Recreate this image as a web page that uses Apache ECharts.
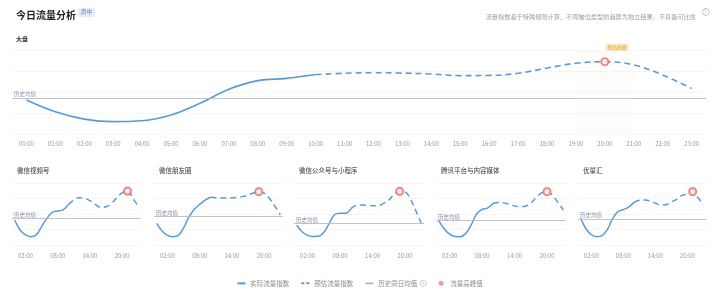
<!DOCTYPE html>
<html><head><meta charset="utf-8">
<script src="https://cdn.jsdelivr.net/npm/echarts@6/dist/echarts.min.js"></script>
<style>html,body{margin:0;padding:0;background:#fff}#c{width:720px;height:307px}</style>
</head><body><div id="c"></div>
<script>
// ---- data ----
const hours = ['00:00','01:00','02:00','03:00','04:00','05:00','06:00','07:00','08:00','09:00','10:00','11:00','12:00','13:00','14:00','15:00','16:00','17:00','18:00','19:00','20:00','21:00','22:00','23:00'];
const smallTickLabels = ['02:00','08:00','14:00','20:00'];
const actualEndIndex = 10;
const mainValues     = [1.62,1.06,0.71,0.59,0.63,0.90,1.46,2.13,2.54,2.65,2.83,2.89,2.92,2.90,2.86,2.78,2.79,2.89,3.14,3.37,3.44,3.29,2.81,2.17];
const videoValues    = [1.61,0.97,0.65,0.54,0.65,1.18,1.72,2.10,2.19,2.26,2.62,2.90,3.05,3.01,2.86,2.62,2.43,2.47,2.69,3.05,3.37,3.48,3.01,2.47];
const momentsValues  = [1.40,0.90,0.62,0.54,0.62,1.10,1.80,2.30,2.62,2.90,3.08,3.05,3.04,3.04,3.05,3.07,3.12,3.22,3.36,3.44,3.35,3.00,2.50,1.94];
const officialValues = [1.29,0.85,0.62,0.55,0.56,0.80,1.40,1.95,2.05,2.05,2.35,2.55,2.58,2.56,2.53,2.53,2.68,2.90,3.28,3.46,3.42,2.95,2.20,1.40];
const tencentValues  = [1.57,1.05,0.70,0.55,0.54,0.75,1.30,2.00,2.30,2.38,2.68,2.75,2.72,2.62,2.52,2.47,2.50,2.70,3.05,3.36,3.44,3.20,2.75,2.26];
const ylhValues      = [1.72,1.05,0.66,0.54,0.60,1.00,1.70,2.15,2.28,2.45,2.75,2.88,2.90,2.85,2.70,2.58,2.60,2.78,2.95,3.20,3.30,3.44,3.05,2.60];
const panelNames = ['微信视频号','微信朋友圈','微信公众号与小程序','腾讯平台与内容媒体','优量汇'];
const avgLevels = [1.71, 1.72, 1.83, 1.40, 1.57, 1.68];
const legendNames = ['实际流量指数','预估流量指数','历史同日均值','流量高峰值'];
const peakLabel = '预估高峰';
const avgLabel = '历史均值';

// ---- build ----
const BLUE = '#5b9bd5';
const FONT = '"Noto Sans CJK SC","Noto Sans",sans-serif';
const panelValues = [mainValues, videoValues, momentsValues, officialValues, tencentValues, ylhValues];
const grids = [{left:12, right:14, top:50, bottom:173}];
const smallGeom = [[12,129],[154,129],[294,130],[436,130],[578,128]];
smallGeom.forEach(g => grids.push({left:g[0], right:720-g[0]-g[1], top:183, bottom:62}));

const xAxes = [], yAxes = [], series = [];
panelValues.forEach((vals, i) => {
  const isMain = i === 0;
  xAxes.push({
    type:'category', gridIndex:i, data:hours, boundaryGap:true,
    axisLine:{show:false}, axisTick:{show:false}, splitLine:{show:false},
    axisLabel:{
      fontSize:6, color:'#9a9a9a', fontFamily:FONT, margin: isMain ? 7 : 8,
      interval: isMain ? 0 : (idx, v) => smallTickLabels.includes(v)
    }
  });
  yAxes.push({
    type:'value', gridIndex:i, min:0, max:4, interval:1,
    axisLabel:{show:false}, axisLine:{show:false}, axisTick:{show:false},
    splitLine:{lineStyle:{color:'#f2f2f2', width:0.8}}
  });
  const actual = vals.map((v, k) => k <= actualEndIndex ? v : null);
  const fc = vals.map((v, k) => k >= actualEndIndex ? v : null);
  series.push({
    name: legendNames[0], type:'line', xAxisIndex:i, yAxisIndex:i, data:actual,
    smooth:0.4, symbol:'none', connectNulls:false, silent:true,
    lineStyle:{color:BLUE, width: isMain ? 1.6 : 1.5}, itemStyle:{color:BLUE},
    markLine:{
      silent:true, symbol:'none',
      lineStyle:{color:'#b9bcc4', width:0.9, type:'solid'},
      label:{show:true, position:'insideStartTop', formatter:avgLabel, fontSize:5.5, color:'#8d90a8', fontFamily:FONT, distance:[2,1]},
      data:[{yAxis:avgLevels[i]}]
    }
  });
  series.push({
    name: legendNames[1], type:'line', xAxisIndex:i, yAxisIndex:i, data:fc,
    smooth:0.4, symbol:'none', silent:true,
    lineStyle:{color:BLUE, width: isMain ? 1.6 : 1.5, type:[6,4]}, itemStyle:{color:BLUE},
    markArea: isMain ? {silent:true, itemStyle:{color:'rgba(255,240,228,0.12)'}, data:[[{xAxis:'19:00'},{xAxis:'21:00'}]]} : undefined
  });
  let pk = 0; vals.forEach((v,k)=>{ if (v > vals[pk]) pk = k; });
  series.push({
    name: legendNames[3], type:'scatter', xAxisIndex:i, yAxisIndex:i, z:5,
    data:[[hours[pk], vals[pk]]], symbol:'circle', symbolSize: 7, silent:true,
    itemStyle:{color:'#ffffff', borderColor:'#e56d6d', borderWidth:1.7, shadowBlur:2, shadowColor:'rgba(230,110,110,0.45)'},
    label: isMain ? {
      show:true, formatter:peakLabel, position:[5,-14], fontSize:4.8, color:'#d58a2a', fontFamily:FONT,
      backgroundColor:'#fde6b0', padding:[1.5,2], borderRadius:1
    } : {show:false}
  });
});
series.push({name:legendNames[2], type:'line', data:[], xAxisIndex:0, yAxisIndex:0, lineStyle:{color:'#bfbfbf'}, itemStyle:{color:'#bfbfbf'}, symbol:'none'});

const titles = [
  {text:'今日流量分析', left:11, top:5, textStyle:{fontSize:10, fontWeight:'bold', color:'#222', fontFamily:FONT}},
  {text:'大盘', left:11, top:31, textStyle:{fontSize:6, fontWeight:'bold', color:'#333', fontFamily:FONT}},
  {text:'流量指数基于特殊规则计算，不同触位类型的趋势为独立结果，不具备可比性', right:19, top:9, textStyle:{fontSize:6.2, fontWeight:'normal', color:'#a0a0a0', fontFamily:FONT}}
];
smallGeom.forEach((g, i) => titles.push({text:panelNames[i], left:g[0], top:162, textStyle:{fontSize:6.5, fontWeight:'normal', color:'#333', fontFamily:FONT}}));

const chart = echarts.init(document.getElementById('c'), null, {renderer:'canvas'});
chart.setOption({
  backgroundColor:'#fff',
  animation:false,
  title: titles,
  grid: grids, xAxis: xAxes, yAxis: yAxes, series: series,
  legend:{
    left:'center', top:275, itemWidth:8, itemHeight:5, itemGap:12,
    textStyle:{fontSize:6.5, color:'#8a8a8a', fontFamily:FONT,
      rich:{q:{fontSize:4.5, color:'#aaa', borderColor:'#bbb', borderWidth:0.7, borderRadius:4, width:6, height:6, align:'center', lineHeight:6}}},
    formatter: n => n === legendNames[2] ? n + '  {q|?}' : n,
    data:[
      {name:legendNames[0], icon:'path://M0,0h8v2h-8z', itemStyle:{color:BLUE}},
      {name:legendNames[1], icon:'path://M0,0h3v2h-3zM5,0h3v2h-3z', itemStyle:{color:BLUE}},
      {name:legendNames[2], icon:'path://M0,0h8v2h-8z', itemStyle:{color:'#bfbfbf'}},
      {name:legendNames[3], icon:'circle', itemStyle:{color:'#e98585', borderWidth:0, shadowBlur:0}}
    ]
  },
  graphic:[
    {type:'rect', left:78, top:8, shape:{width:17, height:9, r:2}, style:{fill:'#e7eefb'}},
    {type:'text', left:81, top:9.5, style:{text:'周中', fontSize:5.5, fill:'#5a7fd0', fontFamily:FONT}},
    {type:'circle', left:702, top:8, shape:{r:3.5}, style:{fill:'#fff', stroke:'#b5b5b5', lineWidth:0.8}},
    {type:'text', left:704, top:8.6, style:{text:'?', fontSize:5, fill:'#aaa', fontFamily:FONT}}
  ]
});
</script></body></html>
